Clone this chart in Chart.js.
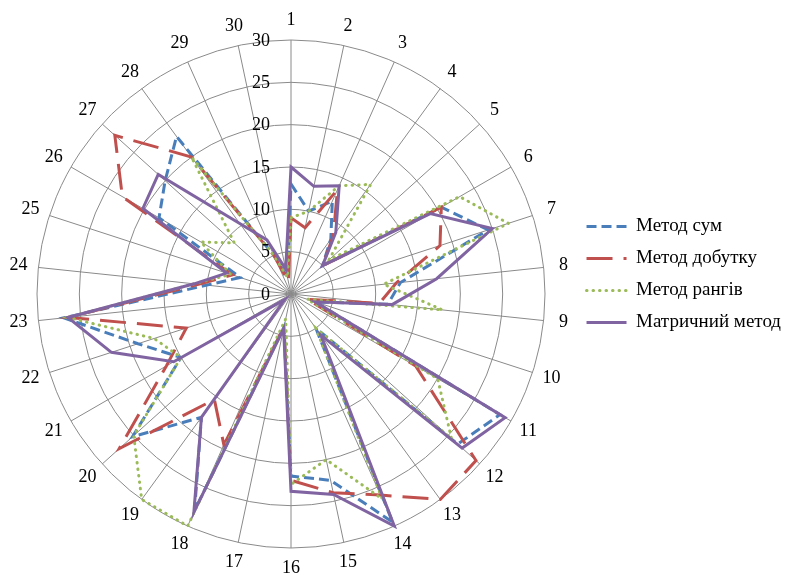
<!DOCTYPE html>
<html>
<head>
<meta charset="utf-8">
<script src="https://cdn.jsdelivr.net/npm/chart.js@4.4.1/dist/chart.umd.min.js"></script>
<style>
  html, body { margin: 0; padding: 0; background: #fff; }
  #wrap { width: 791px; height: 584px; }
</style>
</head>
<body>
<div id="wrap"><canvas id="myChart" width="791" height="584"></canvas></div>
<script>
var categories = ['1','2','3','4','5','6','7','8','9','10','11','12','13','14','15',
                  '16','17','18','19','20','21','22','23','24','25','26','27','28','29','30'];
var rTicks = [0, 5, 10, 15, 20, 25, 30];

var sumMethod     = [13, 10, 12, 8, 5, 20.5, 24.5, 13, 11.5, 3, 28.5, 26.5, 5, 29.5, 22.5,
                     21.5, 4, 28, 18, 25.2, 15, 19, 27, 10, 6.3, 18, 20, 23, 5, 2];
var productMethod = [9, 8, 13.5, 8.5, 5, 20.5, 18.5, 12.5, 10.5, 2, 17, 29.4, 30, 26, 24,
                     22, 4, 19.5, 15.4, 27.3, 17, 13, 26.5, 11, 7.3, 23, 28, 20, 5, 1.5];
var rankMethod    = [9, 10, 14, 16, 6, 23, 27, 11, 18, 2, 20, 25.5, 5, 26.5, 20,
                     22.5, 3, 30, 30, 25, 15, 17, 26.5, 11.5, 7.5, 12.3, 9, 20, 5, 2];
var matrixMethod  = [15, 13, 14, 9, 5, 19, 25, 17.3, 12, 3, 29.2, 27.2, 6, 30, 24.2,
                     23.3, 4.2, 28.2, 18, 1, 16, 22.3, 26.5, 11.5, 8, 20.2, 21.1, 10.3, 7, 3];

var serif = '"Liberation Serif", "Times New Roman", serif';

// tick numbers and category numbers, placed with the radial scale
var radarLabels = {
  id: 'radarLabels',
  afterDraw: function (chart) {
    var scale = chart.scales.r;
    var ctx = chart.ctx;
    ctx.save();
    ctx.fillStyle = '#000';
    ctx.font = '18px ' + serif;
    ctx.textBaseline = 'middle';
    ctx.textAlign = 'right';
    rTicks.forEach(function (v) {
      var d = scale.getDistanceFromCenterForValue(v);
      ctx.fillText(String(v), scale.xCenter - 21, scale.yCenter - d + 1);
    });
    ctx.textAlign = 'center';
    chart.data.labels.forEach(function (lab, i) {
      var p = scale.getPointPosition(i, scale.drawingArea + 20);
      ctx.fillText(lab, p.x, p.y);
    });
    ctx.restore();
  }
};

function series(label, data, color, dash, cap, order) {
  return {
    label: label,
    data: data,
    borderColor: color,
    borderWidth: 3,
    borderDash: dash,
    borderCapStyle: cap,
    fill: false,
    tension: 0,
    pointRadius: 0,
    pointHoverRadius: 0,
    order: order
  };
}

var ctx = document.getElementById('myChart').getContext('2d');
var myChart = new Chart(ctx, {
  type: 'radar',
  data: {
    labels: categories,
    datasets: [
      series('Метод сум', sumMethod, '#4a7ebb', [10, 5], 'butt', 3),
      series('Метод добутку', productMethod, '#c0504d', [26, 11], 'butt', 2),
      series('Метод рангів', rankMethod, '#9bbb59', [0.5, 6], 'round', 1),
      series('Матричний метод', matrixMethod, '#8064a2', [], 'butt', 0)
    ]
  },
  options: {
    responsive: false,
    animation: false,
    devicePixelRatio: 1,
    layout: { padding: { left: 10, top: 40, bottom: 36, right: 0 } },
    scales: {
      r: {
        min: rTicks[0],
        max: rTicks[rTicks.length - 1],
        ticks: { stepSize: rTicks[1] - rTicks[0], display: false },
        grid: { circular: true, color: '#8a8a8a', lineWidth: 1 },
        angleLines: { color: '#8a8a8a', lineWidth: 1 },
        pointLabels: { display: false }
      }
    },
    plugins: {
      tooltip: { enabled: false },
      legend: {
        display: true,
        position: 'right',
        align: 'start',
        maxWidth: 219,
        title: { display: true, text: '', font: { size: 10, lineHeight: 1 }, padding: { top: 154, bottom: 0 } },
        labels: {
          usePointStyle: true,
          pointStyle: 'line',
          pointStyleWidth: 40,
          boxWidth: 40,
          padding: 13,
          color: '#000',
          font: { family: serif, size: 19 },
          generateLabels: function (chart) {
            return chart.data.datasets.map(function (ds, i) {
              return {
                text: ds.label,
                fillStyle: 'rgba(0,0,0,0)',
                strokeStyle: ds.borderColor,
                lineWidth: 3,
                lineDash: ds.borderDash,
                lineCap: ds.borderCapStyle,
                pointStyle: 'line',
                hidden: false,
                fontColor: '#000',
                datasetIndex: i
              };
            });
          }
        }
      }
    }
  },
  plugins: [radarLabels]
});
</script>
</body>
</html>
